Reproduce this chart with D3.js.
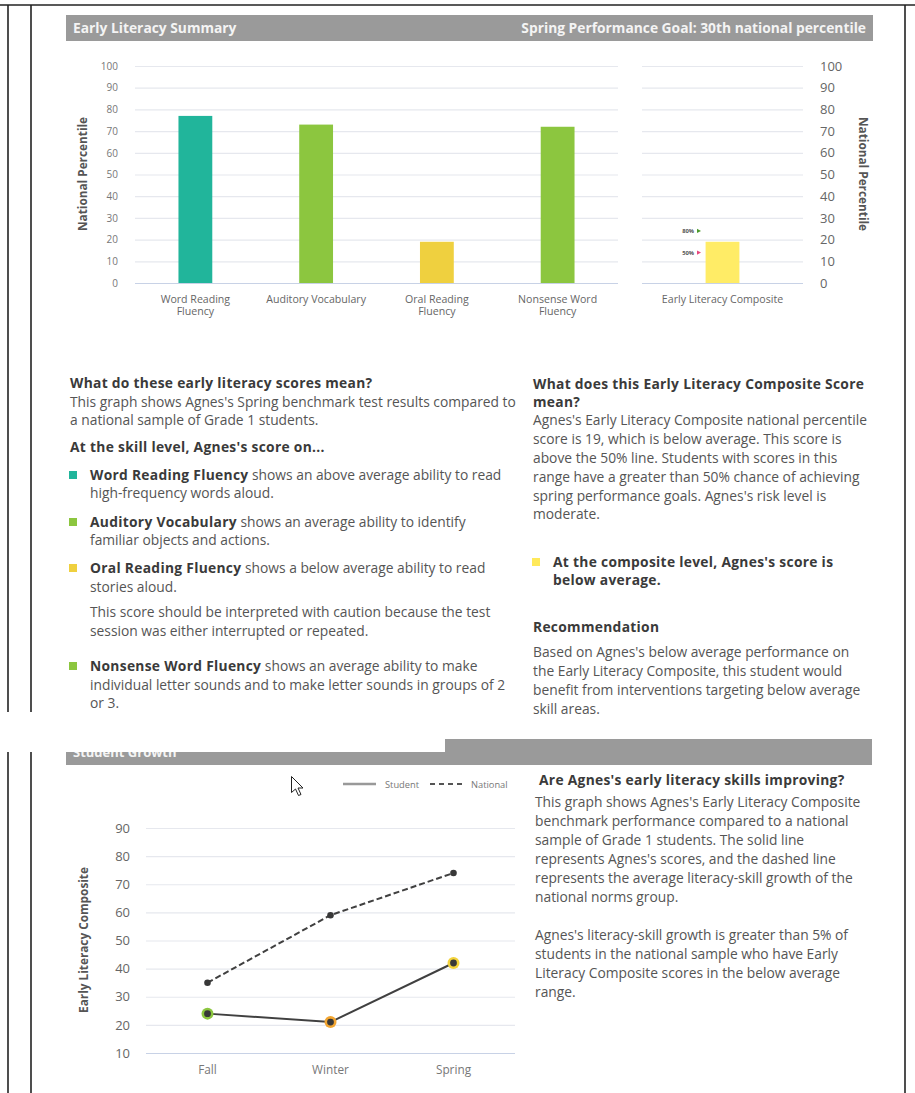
<!DOCTYPE html>
<html>
<head>
	<meta charset="utf-8">
	<script src="https://d3js.org/d3.v7.min.js"></script>
	<style>
		body {
			margin: 0;
			background: #fff;
		}
		svg text {
			font-family: "Open Sans", "Noto Sans", sans-serif;
		}
		.tick-l text { font-size: 10px; fill: #777; }
		.tick-r text { font-size: 13px; fill: #666; }
		.tick-g text { font-size: 13px; fill: #666; }
		.cat { font-size: 10.6px; fill: #666; }
		.ytitle { font-size: 11.8px; font-weight: bold; fill: #555; }
		.bar-head { font-size: 13.8px; font-weight: bold; fill: #f4f4f4; }
		.body { font-size: 13.8px; fill: #555; }
		.strong { font-weight: bold; fill: #3a3a3a; letter-spacing: 0.3px; }
	</style>
</head>
<body>
<script>
	// data
	var skills = ["Word Reading Fluency", "Auditory Vocabulary", "Oral Reading Fluency", "Nonsense Word Fluency"];
	var skillLabels = [["Word Reading", "Fluency"], ["Auditory Vocabulary"], ["Oral Reading", "Fluency"], ["Nonsense Word", "Fluency"]];
	var skillValues = [77, 73, 19, 72];
	var skillColors = ["#21b59b", "#8cc63f", "#efd03f", "#8cc63f"];

	var composite = ["Early Literacy Composite"];
	var compositeValues = [19];
	var compositeColors = ["#ffec66"];
	var cutoffLabels = ["80%", "50%"];
	var cutoffValues = [24, 14];
	var cutoffColors = ["#4b9a2c", "#e8457d"];

	var percentileTicks = [0, 10, 20, 30, 40, 50, 60, 70, 80, 90, 100];

	var seasons = ["Fall", "Winter", "Spring"];
	var studentScores = [24, 21, 42];
	var nationalScores = [35, 59, 74];
	var seasonColors = ["#8cc63f", "#f2a531", "#f3d33b"];
	var growthTicks = [10, 20, 30, 40, 50, 60, 70, 80, 90];

	var width = 915, height = 1093;

	var svg = d3.select("body").append("svg")
		.attr("width", width)
		.attr("height", height);

	// page frame
	var frame = svg.append("g").attr("stroke", "#222").attr("stroke-width", 1.6);
	frame.append("line").attr("x1", 0).attr("x2", width).attr("y1", 5).attr("y2", 5);
	[8, 31].forEach(function(x) {
		frame.append("line").attr("x1", x).attr("x2", x).attr("y1", 5).attr("y2", 712);
		frame.append("line").attr("x1", x).attr("x2", x).attr("y1", 752).attr("y2", height);
	});
	frame.append("line").attr("x1", 905).attr("x2", 905).attr("y1", 5).attr("y2", height);

	// header bar
	svg.append("rect").attr("x", 66).attr("y", 15).attr("width", 807).attr("height", 26).attr("fill", "#9a9a9a");
	svg.append("text").attr("class", "bar-head").attr("x", 73).attr("y", 33).text("Early Literacy Summary");
	svg.append("text").attr("class", "bar-head").attr("x", 866).attr("y", 33).attr("text-anchor", "end")
		.text("Spring Performance Goal: 30th national percentile");

	// ---- skill bars ----
	var yScale = d3.scaleLinear().domain([0, 100]).range([283, 66]);

	var xSkill = d3.scaleBand().domain(skills).range([135, 618]).paddingInner(0.72).paddingOuter(0.36);
	var xComp = d3.scaleBand().domain(composite).range([642, 803]).paddingInner(0.79).paddingOuter(0.395);

	function grid(g, x1, x2) {
		g.selectAll("line").data(percentileTicks).enter().append("line")
			.attr("x1", x1).attr("x2", x2)
			.attr("y1", function(d) { return yScale(d) + 0.5 })
			.attr("y2", function(d) { return yScale(d) + 0.5 })
			.attr("stroke", function(d) { return d === 0 ? "#c8d2e6" : "#e6e8ee" })
			.attr("stroke-width", 1.2);
	}
	grid(svg.append("g"), 135, 618);
	grid(svg.append("g"), 642, 803);

	svg.append("g").attr("class", "tick-l")
		.attr("transform", "translate(120,0)")
		.call(d3.axisLeft(yScale).tickValues(percentileTicks).tickSize(0).tickPadding(2))
		.call(function(g) { g.select(".domain").remove() });

	svg.append("g").attr("class", "tick-r")
		.attr("transform", "translate(818,0)")
		.call(d3.axisRight(yScale).tickValues(percentileTicks).tickSize(0).tickPadding(2))
		.call(function(g) { g.select(".domain").remove() });

	svg.selectAll(".skill-bar").data(skills).enter().append("rect")
		.attr("x", function(d) { return xSkill(d) })
		.attr("y", function(d, i) { return yScale(skillValues[i]) })
		.attr("width", xSkill.bandwidth())
		.attr("height", function(d, i) { return yScale(0) - yScale(skillValues[i]) })
		.attr("fill", function(d, i) { return skillColors[i] });

	svg.selectAll(".comp-bar").data(composite).enter().append("rect")
		.attr("x", function(d) { return xComp(d) })
		.attr("y", function(d, i) { return yScale(compositeValues[i]) })
		.attr("width", xComp.bandwidth())
		.attr("height", function(d, i) { return yScale(0) - yScale(compositeValues[i]) })
		.attr("fill", function(d, i) { return compositeColors[i] });

	// category labels
	skills.forEach(function(s, i) {
		var t = svg.append("text").attr("class", "cat").attr("text-anchor", "middle")
			.attr("x", xSkill(s) + xSkill.bandwidth() / 2).attr("y", 303);
		skillLabels[i].forEach(function(line, j) {
			t.append("tspan").attr("x", xSkill(s) + xSkill.bandwidth() / 2).attr("dy", j ? 12 : 0).text(line);
		});
	});
	svg.append("text").attr("class", "cat").attr("text-anchor", "middle")
		.attr("x", xComp(composite[0]) + xComp.bandwidth() / 2).attr("y", 303).text(composite[0]);

	// cutoff markers
	var cut = svg.selectAll(".cut").data(cutoffValues).enter().append("g")
		.attr("transform", function(d) { return "translate(" + [697, yScale(d)] + ")" });
	cut.append("path").attr("d", "M0,-2.2L4,0L0,2.2Z").attr("fill", function(d, i) { return cutoffColors[i] });
	cut.append("text").attr("x", -3).attr("y", 2).attr("text-anchor", "end")
		.style("font-size", "5.8px").style("font-weight", "bold").attr("fill", "#555")
		.text(function(d, i) { return cutoffLabels[i] });

	// axis titles
	svg.append("text").attr("class", "ytitle").attr("text-anchor", "middle")
		.attr("transform", "translate(87,174) rotate(-90)").text("National Percentile");
	svg.append("text").attr("class", "ytitle").attr("text-anchor", "middle")
		.attr("transform", "translate(859,174) rotate(90)").text("National Percentile");

	// ---- text blocks ----
	function para(x, lines) {
		lines.forEach(function(l) {
			var t = svg.append("text").attr("class", "body").attr("x", l.x || x).attr("y", l.y);
			if (l.b) t.append("tspan").attr("class", "strong").text(l.b);
			if (l.t) t.append("tspan").text(l.t);
			if (l.sq) svg.append("rect").attr("x", x - 1).attr("y", l.y - 9).attr("width", 8).attr("height", 8).attr("fill", l.sq);
		});
	}

	para(70, [
		{ y: 388, b: "What do these early literacy scores mean?" },
		{ y: 407, t: "This graph shows Agnes's Spring benchmark test results compared to" },
		{ y: 425, t: "a national sample of Grade 1 students." },
		{ y: 452, b: "At the skill level, Agnes's score on..." },
		{ y: 480, x: 90, b: skills[0], t: " shows an above average ability to read", sq: skillColors[0] },
		{ y: 498, x: 90, t: "high-frequency words aloud." },
		{ y: 527, x: 90, b: skills[1], t: " shows an average ability to identify", sq: skillColors[1] },
		{ y: 545, x: 90, t: "familiar objects and actions." },
		{ y: 573, x: 90, b: skills[2], t: " shows a below average ability to read", sq: skillColors[2] },
		{ y: 592, x: 90, t: "stories aloud." },
		{ y: 617, x: 90, t: "This score should be interpreted with caution because the test" },
		{ y: 636, x: 90, t: "session was either interrupted or repeated." },
		{ y: 671, x: 90, b: skills[3], t: " shows an average ability to make", sq: skillColors[3] },
		{ y: 690, x: 90, t: "individual letter sounds and to make letter sounds in groups of 2" },
		{ y: 708, x: 90, t: "or 3." }
	]);

	para(533, [
		{ y: 389, b: "What does this Early Literacy Composite Score" },
		{ y: 407, b: "mean?" },
		{ y: 425, t: "Agnes's Early Literacy Composite national percentile" },
		{ y: 444, t: "score is 19, which is below average. This score is" },
		{ y: 463, t: "above the 50% line. Students with scores in this" },
		{ y: 482, t: "range have a greater than 50% chance of achieving" },
		{ y: 501, t: "spring performance goals. Agnes's risk level is" },
		{ y: 519, t: "moderate." },
		{ y: 567, x: 553, b: "At the composite level, Agnes's score is", sq: "#ffe95a" },
		{ y: 585, x: 553, b: "below average." },
		{ y: 632, b: "Recommendation" },
		{ y: 657, t: "Based on Agnes's below average performance on" },
		{ y: 676, t: "the Early Literacy Composite, this student would" },
		{ y: 695, t: "benefit from interventions targeting below average" },
		{ y: 714, t: "skill areas." }
	]);

	// ---- student growth ----
	svg.append("rect").attr("x", 66).attr("y", 752).attr("width", 380).attr("height", 13).attr("fill", "#9a9a9a");
	svg.append("rect").attr("x", 445).attr("y", 739).attr("width", 427).attr("height", 26).attr("fill", "#9a9a9a");
	svg.append("clipPath").attr("id", "cut-head").append("rect")
		.attr("x", 60).attr("y", 752).attr("width", 400).attr("height", 14);
	svg.append("text").attr("class", "bar-head").attr("clip-path", "url(#cut-head)")
		.style("font-size", "13px").attr("x", 73).attr("y", 757).text("Student Growth");

	var gy = d3.scaleLinear().domain([10, 90]).range([1053, 828]);
	var gx = d3.scalePoint().domain(seasons).range([146, 515]).padding(0.5);

	svg.append("g").selectAll("line").data(growthTicks).enter().append("line")
		.attr("x1", 146).attr("x2", 515)
		.attr("y1", function(d) { return gy(d) + 0.5 })
		.attr("y2", function(d) { return gy(d) + 0.5 })
		.attr("stroke", function(d) { return d === 10 ? "#c8d2e6" : "#e6e8ee" })
		.attr("stroke-width", 1.2);

	svg.append("g").attr("class", "tick-g")
		.attr("transform", "translate(132,0)")
		.call(d3.axisLeft(gy).tickValues(growthTicks).tickSize(0).tickPadding(2))
		.call(function(g) { g.select(".domain").remove() });

	svg.append("g").selectAll("text").data(seasons).enter().append("text")
		.attr("x", function(d) { return gx(d) })
		.attr("y", 1074)
		.attr("text-anchor", "middle")
		.style("font-size", "11.8px").attr("fill", "#777")
		.text(function(d) { return d });

	svg.append("text").attr("class", "ytitle").attr("text-anchor", "middle")
		.attr("transform", "translate(88,940) rotate(-90)").text("Early Literacy Composite");

	var line = d3.line()
		.x(function(d, i) { return gx(seasons[i]) })
		.y(function(d) { return gy(d) });

	svg.append("path").datum(nationalScores).attr("d", line)
		.attr("fill", "none").attr("stroke", "#404040").attr("stroke-width", 2).attr("stroke-dasharray", "6,3");
	svg.append("g").selectAll("circle").data(nationalScores).enter().append("circle")
		.attr("cx", function(d, i) { return gx(seasons[i]) })
		.attr("cy", function(d) { return gy(d) })
		.attr("r", 3.3).attr("fill", "#383838");

	svg.append("path").datum(studentScores).attr("d", line)
		.attr("fill", "none").attr("stroke", "#404040").attr("stroke-width", 2);
	var sp = svg.append("g").selectAll("g").data(studentScores).enter().append("g")
		.attr("transform", function(d, i) { return "translate(" + [gx(seasons[i]), gy(d)] + ")" });
	sp.append("circle").attr("r", 6).attr("fill", function(d, i) { return seasonColors[i] });
	sp.append("circle").attr("r", 3.4).attr("fill", "#383838");

	// legend
	var lg = svg.append("g").attr("transform", "translate(0,784)");
	lg.append("line").attr("x1", 343).attr("x2", 376).attr("stroke", "#999").attr("stroke-width", 2.5);
	lg.append("text").attr("x", 385).attr("y", 3.5).style("font-size", "9.3px").attr("fill", "#777").text("Student");
	lg.append("line").attr("x1", 430).attr("x2", 465).attr("stroke", "#555").attr("stroke-width", 1.8).attr("stroke-dasharray", "5,4");
	lg.append("text").attr("x", 471).attr("y", 3.5).style("font-size", "9.3px").attr("fill", "#777").text("National");

	// mouse pointer
	svg.append("path").attr("transform", "translate(291.5,776.5)")
		.attr("d", "M0,0L0,16L4,12.5L7,19L9.5,18L6.5,11.5L11.5,11.5Z")
		.attr("fill", "#fff").attr("stroke", "#222").attr("stroke-width", 1);

	para(535, [
		{ y: 785, x: 539, b: "Are Agnes's early literacy skills improving?" },
		{ y: 807, t: "This graph shows Agnes's Early Literacy Composite" },
		{ y: 826, t: "benchmark performance compared to a national" },
		{ y: 845, t: "sample of Grade 1 students. The solid line" },
		{ y: 864, t: "represents Agnes's scores, and the dashed line" },
		{ y: 883, t: "represents the average literacy-skill growth of the" },
		{ y: 902, t: "national norms group." },
		{ y: 940, t: "Agnes's literacy-skill growth is greater than 5% of" },
		{ y: 959, t: "students in the national sample who have Early" },
		{ y: 978, t: "Literacy Composite scores in the below average" },
		{ y: 997, t: "range." }
	]);
</script>
</body>
</html>
